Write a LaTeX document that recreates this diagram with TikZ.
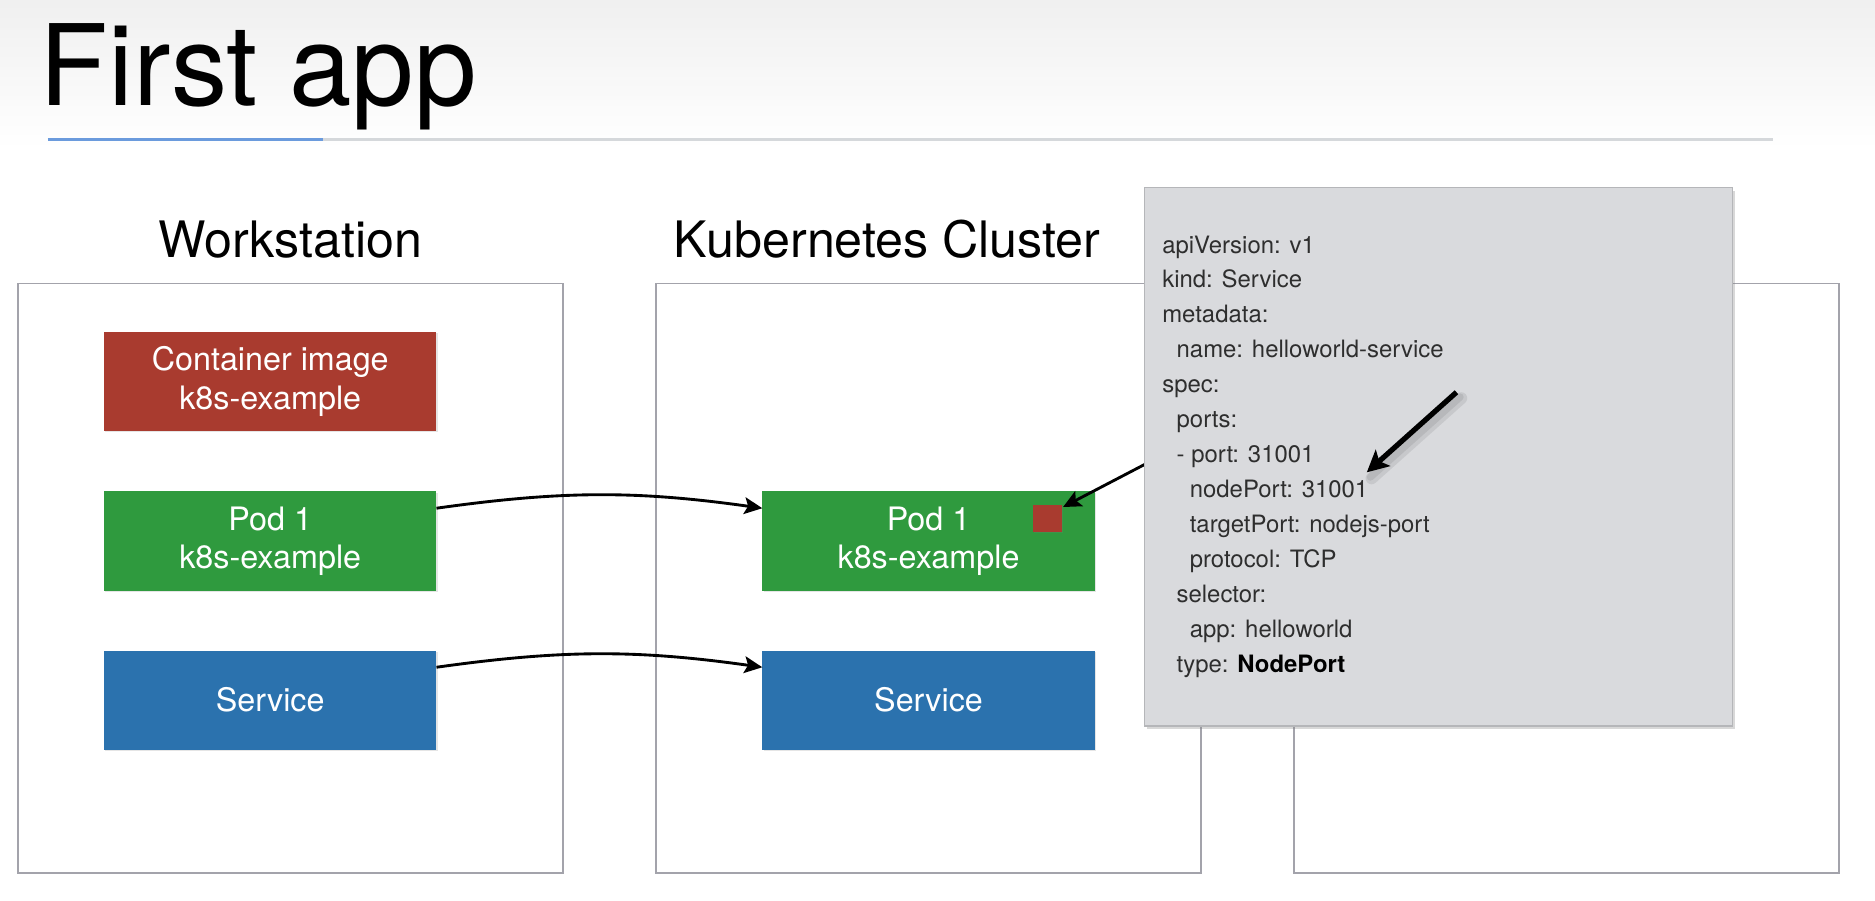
\documentclass[tikz,border=0pt]{standalone}
\usepackage{fontspec}
\setmainfont{TeX Gyre Heros}
\usetikzlibrary{arrows.meta,calc,shadows}
\definecolor{kred}{HTML}{A93B2F}
\definecolor{kgreen}{HTML}{2F9A3E}
\definecolor{kblue}{HTML}{2B72AE}
\definecolor{popfill}{HTML}{D9DADD}
\definecolor{popdraw}{HTML}{B5B6B9}
\definecolor{framecol}{HTML}{A3A3AB}
\definecolor{rulecol}{HTML}{D5D8DB}
\definecolor{ruleblue}{HTML}{6B9BDD}
\begin{document}
\begin{tikzpicture}[x=0.5pt,y=-0.5pt,
  every node/.style={inner sep=0pt, outer sep=0pt},
  hostbox/.style={draw=framecol, line width=0.7pt, minimum width=228pt, minimum height=246.5pt},
  hosttitle/.style={anchor=base, font=\fontsize{21}{25}\selectfont},
  block/.style={minimum width=139pt, minimum height=41.5pt, text=white, align=center,
    font=\fontsize{13.5}{16}\selectfont, drop shadow={shadow xshift=0.5pt, shadow yshift=-0.5pt, opacity=0.2}},
  conn/.style={-{Stealth[length=7.5pt,width=7pt,inset=1.5pt]}, line width=1.2pt, black},
  bigarrow/.style={-{Stealth[length=9pt,width=9pt,inset=2pt]}, line width=2.2pt, black},
  popup/.style={fill=popfill, draw=popdraw, line width=0.6pt, minimum width=246pt, minimum height=225pt,
    drop shadow={shadow xshift=1pt, shadow yshift=-1.5pt, opacity=0.3}},
  code/.style={anchor=north west, align=left, font=\fontsize{10}{14.6}\selectfont, text=black!82}
]
\useasboundingbox (0,0) rectangle (1568,753);
\fill[white] (0,0) rectangle (1568,753);
\shade[top color=black!6, bottom color=white] (0,0) rectangle (1568,125);

% title
\node[anchor=base west, font=\fontsize{47}{50}\selectfont] (title) at (33,88) {First app};
\draw[rulecol, line width=1.2pt] (40,117) -- (1483,117);
\draw[ruleblue, line width=1.2pt] (40,117) -- (270,117);

% host boxes
\node[hostbox] (ws) at (243,483.5) {};
\node[hostbox] (kc) at (776.5,483.5) {};
\node[hostbox] (third) at (1310,483.5) {};
\node[hosttitle] (wst) at (243,215) {Workstation};
\node[hosttitle] (kct) at (742,215) {Kubernetes Cluster};

% blocks
\node[block, fill=kred] (img) at (226,319) {Container image\\k8s-example};
\node[block, fill=kgreen] (pod1) at (226,452.5) {Pod 1\\k8s-example};
\node[block, fill=kblue] (svc1) at (226,585.5) {Service};
\node[block, fill=kgreen] (rpod) at (776.5,452.5) {Pod 1\\k8s-example};
\node[block, fill=kblue] (rsvc) at (776.5,585.5) {Service};
\node[fill=kred, minimum width=12pt, minimum height=11.5pt,
  drop shadow={shadow xshift=0.4pt, shadow yshift=-0.4pt, opacity=0.2}] (sq) at (876,433.5) {};

% connectors
\draw[conn] ($(pod1.north east)+(0,14)$) to[bend left=8] ($(rpod.north west)+(0,14)$);
\draw[conn] ($(svc1.north east)+(0,14)$) to[bend left=8] ($(rsvc.north west)+(0,14)$);
\coordinate (pa) at (958,388);
\draw[conn] (pa) -- ($(sq.north east)+(1,2)$);

% popup
\node[popup] (pop) at (1203,382) {};
\node[code] (yaml) at (972,197) {apiVersion: v1\\
kind: Service\\
metadata:\\
\hspace*{6pt}name: helloworld-service\\
spec:\\
\hspace*{6pt}ports:\\
\hspace*{6pt}- port: 31001\\
\hspace*{11.5pt}nodePort: 31001\\
\hspace*{11.5pt}targetPort: nodejs-port\\
\hspace*{11.5pt}protocol: TCP\\
\hspace*{6pt}selector:\\
\hspace*{11.5pt}app: helloworld\\
\hspace*{6pt}type: \textcolor{black}{\textbf{NodePort}}};

% big arrow inside popup
\coordinate (ba1) at (1218,328);
\coordinate (ba2) at (1143,395);
\draw[black, opacity=0.08, line width=5pt, line cap=round] ($(ba1)+(4,5)$) -- ($(ba2)+(4,5)$);
\draw[black, opacity=0.08, line width=3pt, line cap=round] ($(ba1)+(3,4)$) -- ($(ba2)+(3,4)$);
\draw[bigarrow] (ba1) -- (ba2);
\end{tikzpicture}
\end{document}
